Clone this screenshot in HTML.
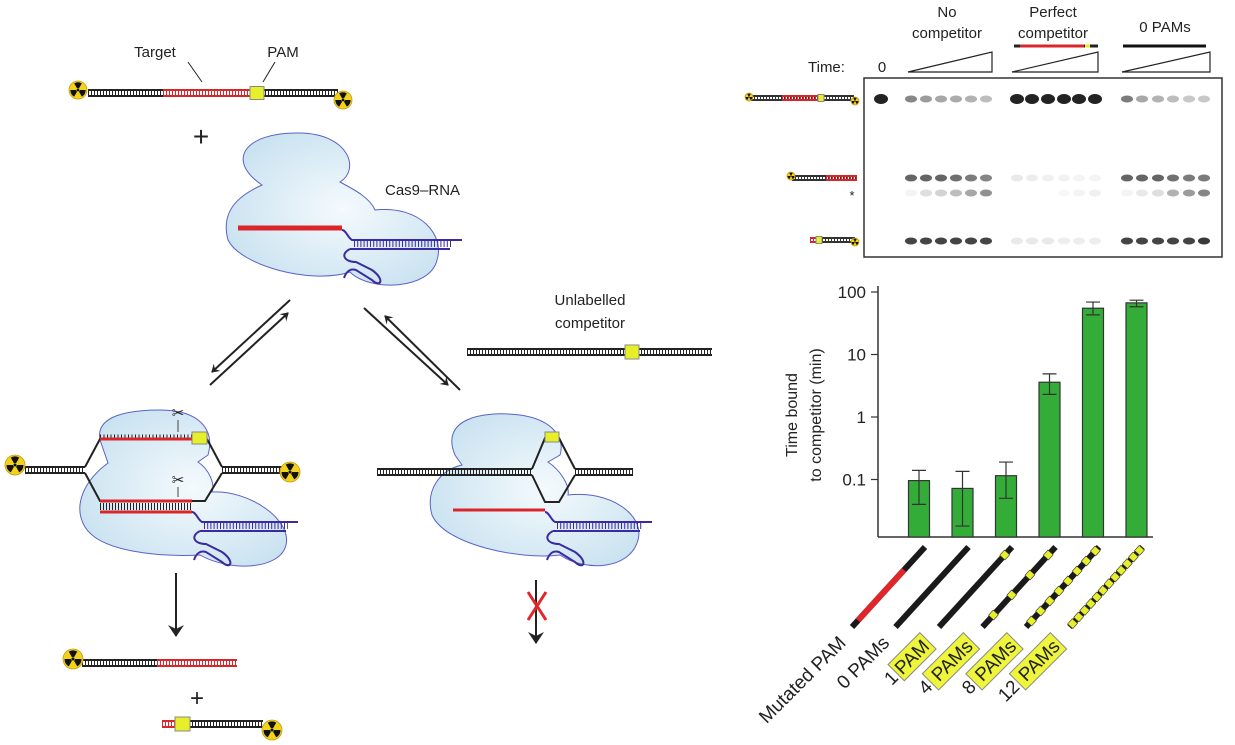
<!DOCTYPE html>
<html><head><meta charset="utf-8"><style>
html,body{margin:0;padding:0;background:#fff;}
svg{display:block;font-family:"Liberation Sans",sans-serif;}
</style></head><body>
<svg id="fig" width="1235" height="745" viewBox="0 0 1235 745" xmlns="http://www.w3.org/2000/svg">
<defs>
<radialGradient id="blobg" cx="0.55" cy="0.5" r="0.6"><stop offset="0" stop-color="#f4fafd"/><stop offset="1" stop-color="#c9e2f0"/></radialGradient>
<marker id="ah" markerWidth="8" markerHeight="10" refX="7" refY="5" orient="auto" markerUnits="userSpaceOnUse"><path d="M0,0 L8,5 L0,10 L3,5 Z" fill="#222"/></marker>
<marker id="ah2" markerWidth="12" markerHeight="16" refX="11" refY="8" orient="auto" markerUnits="userSpaceOnUse"><path d="M0,0 L12,8 L0,16 L4,8 Z" fill="#222"/></marker>
</defs>
<g id="diagram"></g>
<g id="gel"></g>
<g id="chart"></g>
</svg>
<script>
const NS='http://www.w3.org/2000/svg';
function mk(parent,tag,attrs,name){const e=document.createElementNS(NS,tag);for(const k in attrs)e.setAttribute(k,attrs[k]);


parent.appendChild(e);return e;}
function txt(parent,x,y,s,size,anchor,name,fill){const t=mk(parent,'text',{x:x,y:y,'font-size':size,'text-anchor':anchor||'start',fill:fill||'#222'},name);t.textContent=s;return t;}
const D=document.getElementById('diagram');
function dna(p,x1,x2,y,col,name,h){h=h||3;const g=mk(p,'g',{},name||'dna');
mk(g,'line',{x1:x1,y1:y,x2:x2,y2:y,stroke:col,'stroke-width':h*2-1,'stroke-dasharray':'1 2'},'dna-rungs');
mk(g,'line',{x1:x1,y1:y-h,x2:x2,y2:y-h,stroke:col,'stroke-width':2},'dna-strand');
mk(g,'line',{x1:x1,y1:y+h,x2:x2,y2:y+h,stroke:col,'stroke-width':2},'dna-strand');return g;}
function rad(p,x,y,r,name){const g=mk(p,'g',{},name||'radioactive-label');
mk(g,'circle',{cx:x,cy:y,r:r,fill:'#f2d21a',stroke:'#c89a10','stroke-width':0.8},'radio-disc');
for(let i=0;i<3;i++){const a0=(i*120-90-30)*Math.PI/180,a1=(i*120-90+30)*Math.PI/180,rr=r*0.85,ri=r*0.22;
mk(g,'path',{d:`M${x+ri*Math.cos(a0)},${y+ri*Math.sin(a0)} L${x+rr*Math.cos(a0)},${y+rr*Math.sin(a0)} A${rr},${rr} 0 0 1 ${x+rr*Math.cos(a1)},${y+rr*Math.sin(a1)} L${x+ri*Math.cos(a1)},${y+ri*Math.sin(a1)} Z`,fill:'#111'},'radio-blade');}
mk(g,'circle',{cx:x,cy:y,r:r*0.15,fill:'#111'},'radio-center');return g;}
function pam(p,x,y,w,h){mk(p,'rect',{x:x,y:y-h/2,width:w,height:h,fill:'#e6ef2a',stroke:'#888','stroke-width':1},'pam-box');}
function rna(p,x,y,len){const g=mk(p,'g',{},'guide-rna');
mk(g,'path',{d:`M${x},${y-10} C${x+4},${y-10} ${x+6},${y-2} ${x+10},${y} L${x+len},${y}`,fill:'none',stroke:'#3b2aa0','stroke-width':2},'rna-strand');
mk(g,'line',{x1:x+12,y1:y+4,x2:x+len-10,y2:y+4,stroke:'#3b2aa0','stroke-width':6,'stroke-dasharray':'1 2.2'},'rna-rungs');
mk(g,'path',{d:`M${x+8},${y+9} L${x+len-12},${y+9}`,fill:'none',stroke:'#3b2aa0','stroke-width':2},'tracr-strand');
mk(g,'path',{d:`M${x+8},${y+9} C${x-2},${y+14} ${x+2},${y+22} ${x+14},${y+22} L${x+30},${y+30} C${x+44},${y+40} ${x+38},${y+48} ${x+30},${y+40} L${x+14},${y+30} C${x+8},${y+28} ${x+4},${y+32} ${x+2},${y+38}`,fill:'none',stroke:'#3b2aa0','stroke-width':2},'rna-hairpin');
return g;}
function blob(p,d,name){mk(p,'path',{d:d,fill:'url(#blobg)',stroke:'#5a63c6','stroke-width':1},name);}
function arrow(p,x1,y1,x2,y2,name,big){mk(p,'line',{x1:x1,y1:y1,x2:x2,y2:y2,stroke:'#222','stroke-width':2,'marker-end':big?'url(#ah2)':'url(#ah)'},name);}

// top substrate
txt(D,155,57,'Target',15,'middle','target-label');
txt(D,283,57,'PAM',15,'middle','pam-label');
mk(D,'line',{x1:188,y1:62,x2:202,y2:82,stroke:'#222','stroke-width':1},'target-leader');
mk(D,'line',{x1:275,y1:62,x2:263,y2:82,stroke:'#222','stroke-width':1},'pam-leader');
dna(D,88,338,93,'#222','substrate-dna');
dna(D,163,250,93,'#d9262b','target-region');
pam(D,250,93,14,13);
rad(D,78,90,9,'radio-left');rad(D,343,100,9,'radio-right');
txt(D,201,146,'+',28,'middle','plus-sign');
// top cas9
blob(D,'M262,185 C225,160 245,132 300,133 C350,134 360,170 340,182 C355,190 370,198 375,210 C420,205 445,235 437,260 C430,290 370,292 350,272 C310,285 240,265 228,240 C220,210 240,195 262,185 Z','cas9-blob');
mk(D,'line',{x1:238,y1:228,x2:342,y2:228,stroke:'#d9262b','stroke-width':5},'guide-spacer');
rna(D,342,240,120);
txt(D,385,195,'Cas9–RNA',15,'start','cas9-label');
// equilibrium arrows
arrow(D,290,300,212,372,'arrow-bind-left');arrow(D,210,385,288,313,'arrow-unbind-left');
arrow(D,460,390,385,316,'arrow-unbind-right');arrow(D,364,308,448,385,'arrow-bind-right');
// competitor
txt(D,590,305,'Unlabelled',15,'middle','competitor-label-1');
txt(D,590,328,'competitor',15,'middle','competitor-label-2');
dna(D,467,712,352,'#222','competitor-dna');
pam(D,625,352,14,14);
// bottom-left complex
blob(D,'M100,440 C95,415 130,410 160,410 C200,410 215,430 208,455 L198,462 C210,470 215,485 212,492 C250,490 292,520 286,545 C280,570 230,572 200,555 C160,557 100,552 85,527 C72,505 85,480 108,463 L100,440 Z','cleavage-complex-blob');
dna(D,25,85,470,'#222','left-flank');dna(D,222,282,470,'#222','right-flank');
mk(D,'polyline',{points:'85,467 100,439 192,439',fill:'none',stroke:'#222','stroke-width':2},'top-strand-bubble');
mk(D,'line',{x1:207,y1:439,x2:222,y2:467,stroke:'#222','stroke-width':2},'top-strand-right');
mk(D,'line',{x1:100,y1:436,x2:192,y2:436,stroke:'#222','stroke-width':3,'stroke-dasharray':'1 2.5'},'top-strand-ticks');
mk(D,'polyline',{points:'85,473 100,501 205,501 222,473',fill:'none',stroke:'#222','stroke-width':2},'bottom-strand-bubble');
mk(D,'line',{x1:100,y1:439,x2:192,y2:439,stroke:'#d9262b','stroke-width':3},'nts-red');
mk(D,'line',{x1:100,y1:501,x2:192,y2:501,stroke:'#d9262b','stroke-width':3},'ts-red');
mk(D,'line',{x1:100,y1:506.5,x2:192,y2:506.5,stroke:'#222','stroke-width':7,'stroke-dasharray':'1 2'},'ts-rungs');
mk(D,'line',{x1:100,y1:512,x2:192,y2:512,stroke:'#d9262b','stroke-width':3},'guide-red');
pam(D,192,438,15,12);
rad(D,15,465,10,'radio-left-2');rad(D,290,472,10,'radio-right-2');
rna(D,192,522,106);
txt(D,178,418,'✂',15,'middle','scissors-top');txt(D,178,485,'✂',15,'middle','scissors-bottom');
mk(D,'line',{x1:178,y1:420,x2:178,y2:432,stroke:'#444','stroke-width':1},'scissor-tick-top');
mk(D,'line',{x1:178,y1:487,x2:178,y2:497,stroke:'#444','stroke-width':1},'scissor-tick-bottom');
arrow(D,176,573,176,636,'arrow-cleave',true);
dna(D,82,237,663,'#222','product-left');dna(D,157,237,663,'#d9262b','product-left-red');
rad(D,73,659,10,'radio-product-1');
txt(D,197,706,'+',24,'middle','plus-sign-2');
dna(D,162,263,724,'#222','product-right');dna(D,162,176,724,'#d9262b','product-right-red');
pam(D,175,724,15,14);rad(D,272,730,10,'radio-product-2');
// bottom-right complex
blob(D,'M455,455 C440,420 480,410 520,415 C555,420 565,440 560,455 L548,462 C560,470 570,485 568,495 C610,490 645,515 638,540 C630,570 585,572 560,555 C520,560 445,545 432,515 C425,490 440,470 462,465 Z','competitor-complex-blob');
dna(D,377,532,472,'#222','comp-left');dna(D,575,633,472,'#222','comp-right');
mk(D,'polyline',{points:'532,469 545,438 559,438 575,469',fill:'none',stroke:'#222','stroke-width':2},'comp-top-bubble');
mk(D,'polyline',{points:'532,475 545,502 559,502 575,475',fill:'none',stroke:'#222','stroke-width':2},'comp-bottom-bubble');
pam(D,545,437,14,10);
mk(D,'line',{x1:453,y1:510,x2:545,y2:510,stroke:'#d9262b','stroke-width':3},'comp-guide-red');
rna(D,545,522,107);
arrow(D,536,580,536,643,'arrow-no-cleave',true);
mk(D,'path',{d:'M528,592 L546,620 M546,592 L528,620',stroke:'#e0262b','stroke-width':3,fill:'none'},'red-x');

// ===== GEL =====
const G=document.getElementById('gel');
txt(G,947,17,'No',15,'middle','no-competitor-label-1');
txt(G,947,38,'competitor',15,'middle','no-competitor-label-2');
txt(G,1053,17,'Perfect',15,'middle','perfect-competitor-label-1');
txt(G,1053,38,'competitor',15,'middle','perfect-competitor-label-2');
txt(G,1165,32,'0 PAMs',15,'middle','zero-pams-label');
mk(G,'line',{x1:1014,y1:46,x2:1098,y2:46,stroke:'#222','stroke-width':3},'perfect-bar');
mk(G,'line',{x1:1020,y1:46,x2:1084,y2:46,stroke:'#d9262b','stroke-width':3},'perfect-bar-red');
mk(G,'rect',{x:1085,y:44.5,width:5,height:3,fill:'#e6ef2a'},'perfect-bar-pam');
mk(G,'line',{x1:1123,y1:46,x2:1206,y2:46,stroke:'#111','stroke-width':3},'zero-pam-bar');
txt(G,808,72,'Time:',15,'start','time-label');
txt(G,882,72,'0',15,'middle','time-zero');
[[908,992],[1012,1098],[1122,1210]].forEach((a,i)=>{mk(G,'polygon',{points:`${a[0]},72 ${a[1]},52 ${a[1]},72`,fill:'none',stroke:'#222','stroke-width':1.2},'time-wedge-'+i);});
mk(G,'rect',{x:864,y:78,width:358,height:179,fill:'#fff',stroke:'#333','stroke-width':1.5},'gel-frame');
const laneX=[881,911,926,941,956,971,986,1017,1032,1048,1064,1079,1095,1127,1142,1158,1173,1189,1204];
const full=[1,.55,.45,.4,.38,.35,.3,1,1,1,1,1,1,.6,.4,.35,.3,.25,.25];
const cut1=[0,.7,.7,.7,.65,.6,.55,.1,.08,.07,.06,.05,.05,.7,.7,.7,.65,.6,.6];
const star=[0,.05,.15,.2,.3,.4,.5,0,0,0,.03,.05,.07,.05,.1,.15,.35,.45,.55];
const cut2=[0,.85,.85,.85,.85,.85,.85,.1,.1,.1,.08,.08,.08,.85,.85,.85,.85,.85,.9];
function band(x,y,a,nm){if(a<=0)return;const c=Math.round(255-220*a);mk(G,'ellipse',{cx:x,cy:y,rx:a>0.9?7:6,ry:a>0.9?5:3.5,fill:`rgb(${c},${c},${c})`},nm);}
laneX.forEach((x,i)=>{band(x,99,full[i],'band-full-'+i);band(x,178,cut1[i],'band-cleaved-'+i);band(x,193,star[i],'band-star-'+i);band(x,241,cut2[i],'band-pam-product-'+i);});
dna(G,751,854,98,'#333','marker-full',2);dna(G,782,818,98,'#d9262b','marker-full-red',2);pam(G,818,98,6,7);
rad(G,749,97,4,'marker-radio');rad(G,855,101,4,'marker-radio');
dna(G,792,857,178,'#333','marker-cleaved',2);dna(G,826,857,178,'#d9262b','marker-cleaved-red',2);rad(G,791,176,4,'marker-radio');
txt(G,852,200,'*',13,'middle','star-marker');
dna(G,810,855,240,'#333','marker-product',2);dna(G,810,818,240,'#d9262b','marker-product-red',2);pam(G,816,240,6,7);rad(G,855,242,4,'marker-radio');
</script>
<script>
// ===== BAR CHART DATA =====
const categories=['Mutated PAM','0 PAMs','1 PAM','4 PAMs','8 PAMs','12 PAMs'];
const pamCounts=[0,0,1,4,8,12];
const values=[0.096,0.072,0.115,3.6,55,67];
const errLow=[0.04,0.018,0.05,2.3,43,58];
const errHigh=[0.14,0.135,0.19,4.9,69,74];
const tickValues=[0.1,1,10,100];
const tickLabels=['0.1','1','10','100'];

const C=document.getElementById('chart');
const yAt=v=>417-62.5*Math.log10(v);
const xAt=i=>919+i*43.5;
const baseY=537, bw=21;
function el(tag,attrs){const e=document.createElementNS('http://www.w3.org/2000/svg',tag);for(const k in attrs)e.setAttribute(k,attrs[k]);C.appendChild(e);return e;}
let a=el('line',{x1:878,y1:286,x2:878,y2:baseY,stroke:'#333','stroke-width':1.5});


a=el('line',{x1:878,y1:baseY,x2:1153,y2:baseY,stroke:'#333','stroke-width':1.5});


tickValues.forEach((v,i)=>{
 const tk=el('line',{x1:871,y1:yAt(v),x2:878,y2:yAt(v),stroke:'#333','stroke-width':1.2});
 
 
 const t=el('text',{x:866,y:yAt(v)+6,'font-size':17,'text-anchor':'end',fill:'#222'});t.textContent=tickLabels[i];
 
 
});
const yt=el('text',{transform:'translate(797,415) rotate(-90)','font-size':16,'text-anchor':'middle',fill:'#222'});


const t1=document.createElementNS('http://www.w3.org/2000/svg','tspan');t1.setAttribute('x',0);t1.setAttribute('y',0);t1.textContent='Time bound';yt.appendChild(t1);
const t2=document.createElementNS('http://www.w3.org/2000/svg','tspan');t2.setAttribute('x',0);t2.setAttribute('y',24);t2.textContent='to competitor (min)';yt.appendChild(t2);
values.forEach((v,i)=>{
 const x=xAt(i),y=yAt(v);
 const b=el('rect',{x:x-bw/2,y:y,width:bw,height:baseY-y,fill:'#34ad38',stroke:'#333','stroke-width':1.2});
 
 
 const e=el('path',{d:`M${x},${yAt(errLow[i])} V${yAt(errHigh[i])} M${x-7},${yAt(errHigh[i])} H${x+7} M${x-7},${yAt(errLow[i])} H${x+7}`,stroke:'#333','stroke-width':1.2,fill:'none'});
 
 
 const x0=x-67,y0=627,x1=x+6,y1=547;
 const ln=el('line',{x1:x0,y1:y0,x2:x1,y2:y1,stroke:'#1a1a1a','stroke-width':6});
 
 
 if(i===0){const r=el('line',{x1:x0+6,y1:y0-6.6,x2:x0+52,y2:y0-57,stroke:'#e0262b','stroke-width':6});
  
  }
 const n=pamCounts[i];
 for(let k=0;k<n;k++){const f=n===1?0.9:(n===12?(k+0.5)/12:(k+0.6)/n);
  const sq=el('rect',{x:-3.5,y:-3.5,width:7,height:7,fill:'#e6ef2a',stroke:'#333','stroke-width':0.6,transform:`translate(${x0+(x1-x0)*f},${y0+(y1-y0)*f}) rotate(-48)`});
  
  }
 const lg=el('g',{transform:`translate(${x-72},${644}) rotate(-45)`});
 
 
 const parts=categories[i].split(' ');
 if(i<2){const t=document.createElementNS('http://www.w3.org/2000/svg','text');t.setAttribute('x',0);t.setAttribute('y',0);t.setAttribute('font-size',19);t.setAttribute('text-anchor','end');t.setAttribute('fill','#222');t.textContent=categories[i];lg.appendChild(t);}
 else{const w=parts[1].length*13+6;
  const r=document.createElementNS('http://www.w3.org/2000/svg','rect');r.setAttribute('x',-w-2);r.setAttribute('y',-18);r.setAttribute('width',w);r.setAttribute('height',23);r.setAttribute('fill','#eef53a');r.setAttribute('stroke','#888');lg.appendChild(r);
  const t=document.createElementNS('http://www.w3.org/2000/svg','text');t.setAttribute('x',-5);t.setAttribute('y',0);t.setAttribute('font-size',19);t.setAttribute('text-anchor','end');t.setAttribute('fill','#222');t.textContent=parts[1];lg.appendChild(t);
  const t0=document.createElementNS('http://www.w3.org/2000/svg','text');t0.setAttribute('x',-w-4);t0.setAttribute('y',0);t0.setAttribute('font-size',19);t0.setAttribute('text-anchor','end');t0.setAttribute('fill','#222');t0.textContent=parts[0];lg.appendChild(t0);}
});
</script>
</body></html>
